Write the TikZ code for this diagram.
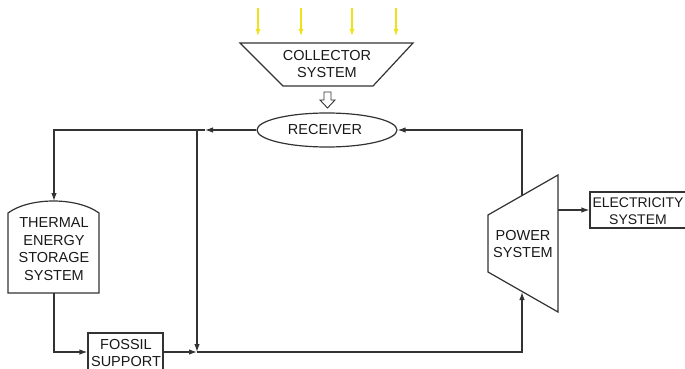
\documentclass[tikz,border=0pt]{standalone}
\usepackage{fontspec}
\setmainfont{Liberation Sans}
\usetikzlibrary{arrows.meta,shapes.geometric}
\definecolor{ln}{HTML}{333333}
\definecolor{sun}{HTML}{EEE21A}
\begin{document}
\begin{tikzpicture}[x=1pt,y=-1pt,
  line/.style={draw=ln, line width=1.2pt, line join=miter},
  flow/.style={line, -{Latex[length=8pt,width=5.5pt]}},
  ray/.style={draw=sun, line width=1.2pt, -{Latex[length=7pt,width=5pt]}},
  lbl/.style={font=\fontsize{14.5}{17.5}\selectfont, align=center, text=black!90, inner sep=0pt}]
\useasboundingbox (0,0) rectangle (685,369);
\clip (0,0) rectangle (685,369);
% sun rays
\foreach \x [count=\i] in {258,301,352,396}{
  \coordinate (rs\i) at (\x,8);
  \coordinate (re\i) at (\x,36);
  \draw[ray] (rs\i) -- (re\i);
}
% collector
\draw[line] (240,43) -- (413,43) -- (373,86) -- (283,86) -- cycle;
\node[lbl] (coll) at (327,64) {COLLECTOR\\SYSTEM};
% hollow arrow
\draw[line, line width=0.9pt] (324,92) -- (331,92) -- (331,100) -- (335,100) -- (327.5,108) -- (320,100) -- (324,100) -- cycle;
% receiver
\node[ellipse, line, minimum width=140pt, minimum height=34pt, inner sep=0pt] (rec) at (327,130) {};
\node[lbl] (rect) at (325,130) {RECEIVER};
% TES
\draw[line] (8,213) .. controls (30,197) and (77,197) .. (99,213) -- (99,293) -- (8,293) -- cycle;
\coordinate (testop) at (54,201);
\coordinate (tesbot) at (54,293);
\node[lbl] (tes) at (54,249) {THERMAL\\ENERGY\\STORAGE\\SYSTEM};
% fossil
\node[line, minimum width=75pt, minimum height=52pt, inner sep=0pt] (fossil) at (125.5,359) {};
\node[lbl] (fosst) at (126,353) {FOSSIL\\SUPPORT};
% power
\draw[line] (488,215) -- (558,175) -- (558,312) -- (488,272) -- cycle;
\node[lbl] (pow) at (523,244) {POWER\\SYSTEM};
\coordinate (pwtop) at (522,195);
\coordinate (pwbot) at (522,292);
\coordinate (pwout) at (558,210);
% electricity
\node[line, minimum width=110pt, minimum height=36pt, inner sep=0pt] (elec) at (645,210) {};
\node[lbl, font=\fontsize{14}{17.5}\selectfont] (elect) at (638,211) {ELECTRICITY\\SYSTEM};
% junctions
\coordinate (tl) at (54,130);
\coordinate (br) at (197,130);
\coordinate (J) at (197,352);
\coordinate (bl) at (54,352);
\coordinate (brr) at (522,352);
\coordinate (tr) at (522,130);
\coordinate (amid) at (205,130);
% connectors
\draw[flow] (rec.west) -- (amid);
\draw[flow] (amid) -- (tl) -- (testop);
\draw[flow] (br) -- (J);
\draw[flow] (tesbot) -- (bl) -- (fossil.west |- bl);
\draw[flow] (fossil.east |- J) -- (J);
\draw[flow] (J) -- (brr) -- (pwbot);
\draw[flow] (pwtop) -- (tr) -- (rec.east);
\draw[flow] (pwout) -- (elec.west |- pwout);
\end{tikzpicture}
\end{document}
